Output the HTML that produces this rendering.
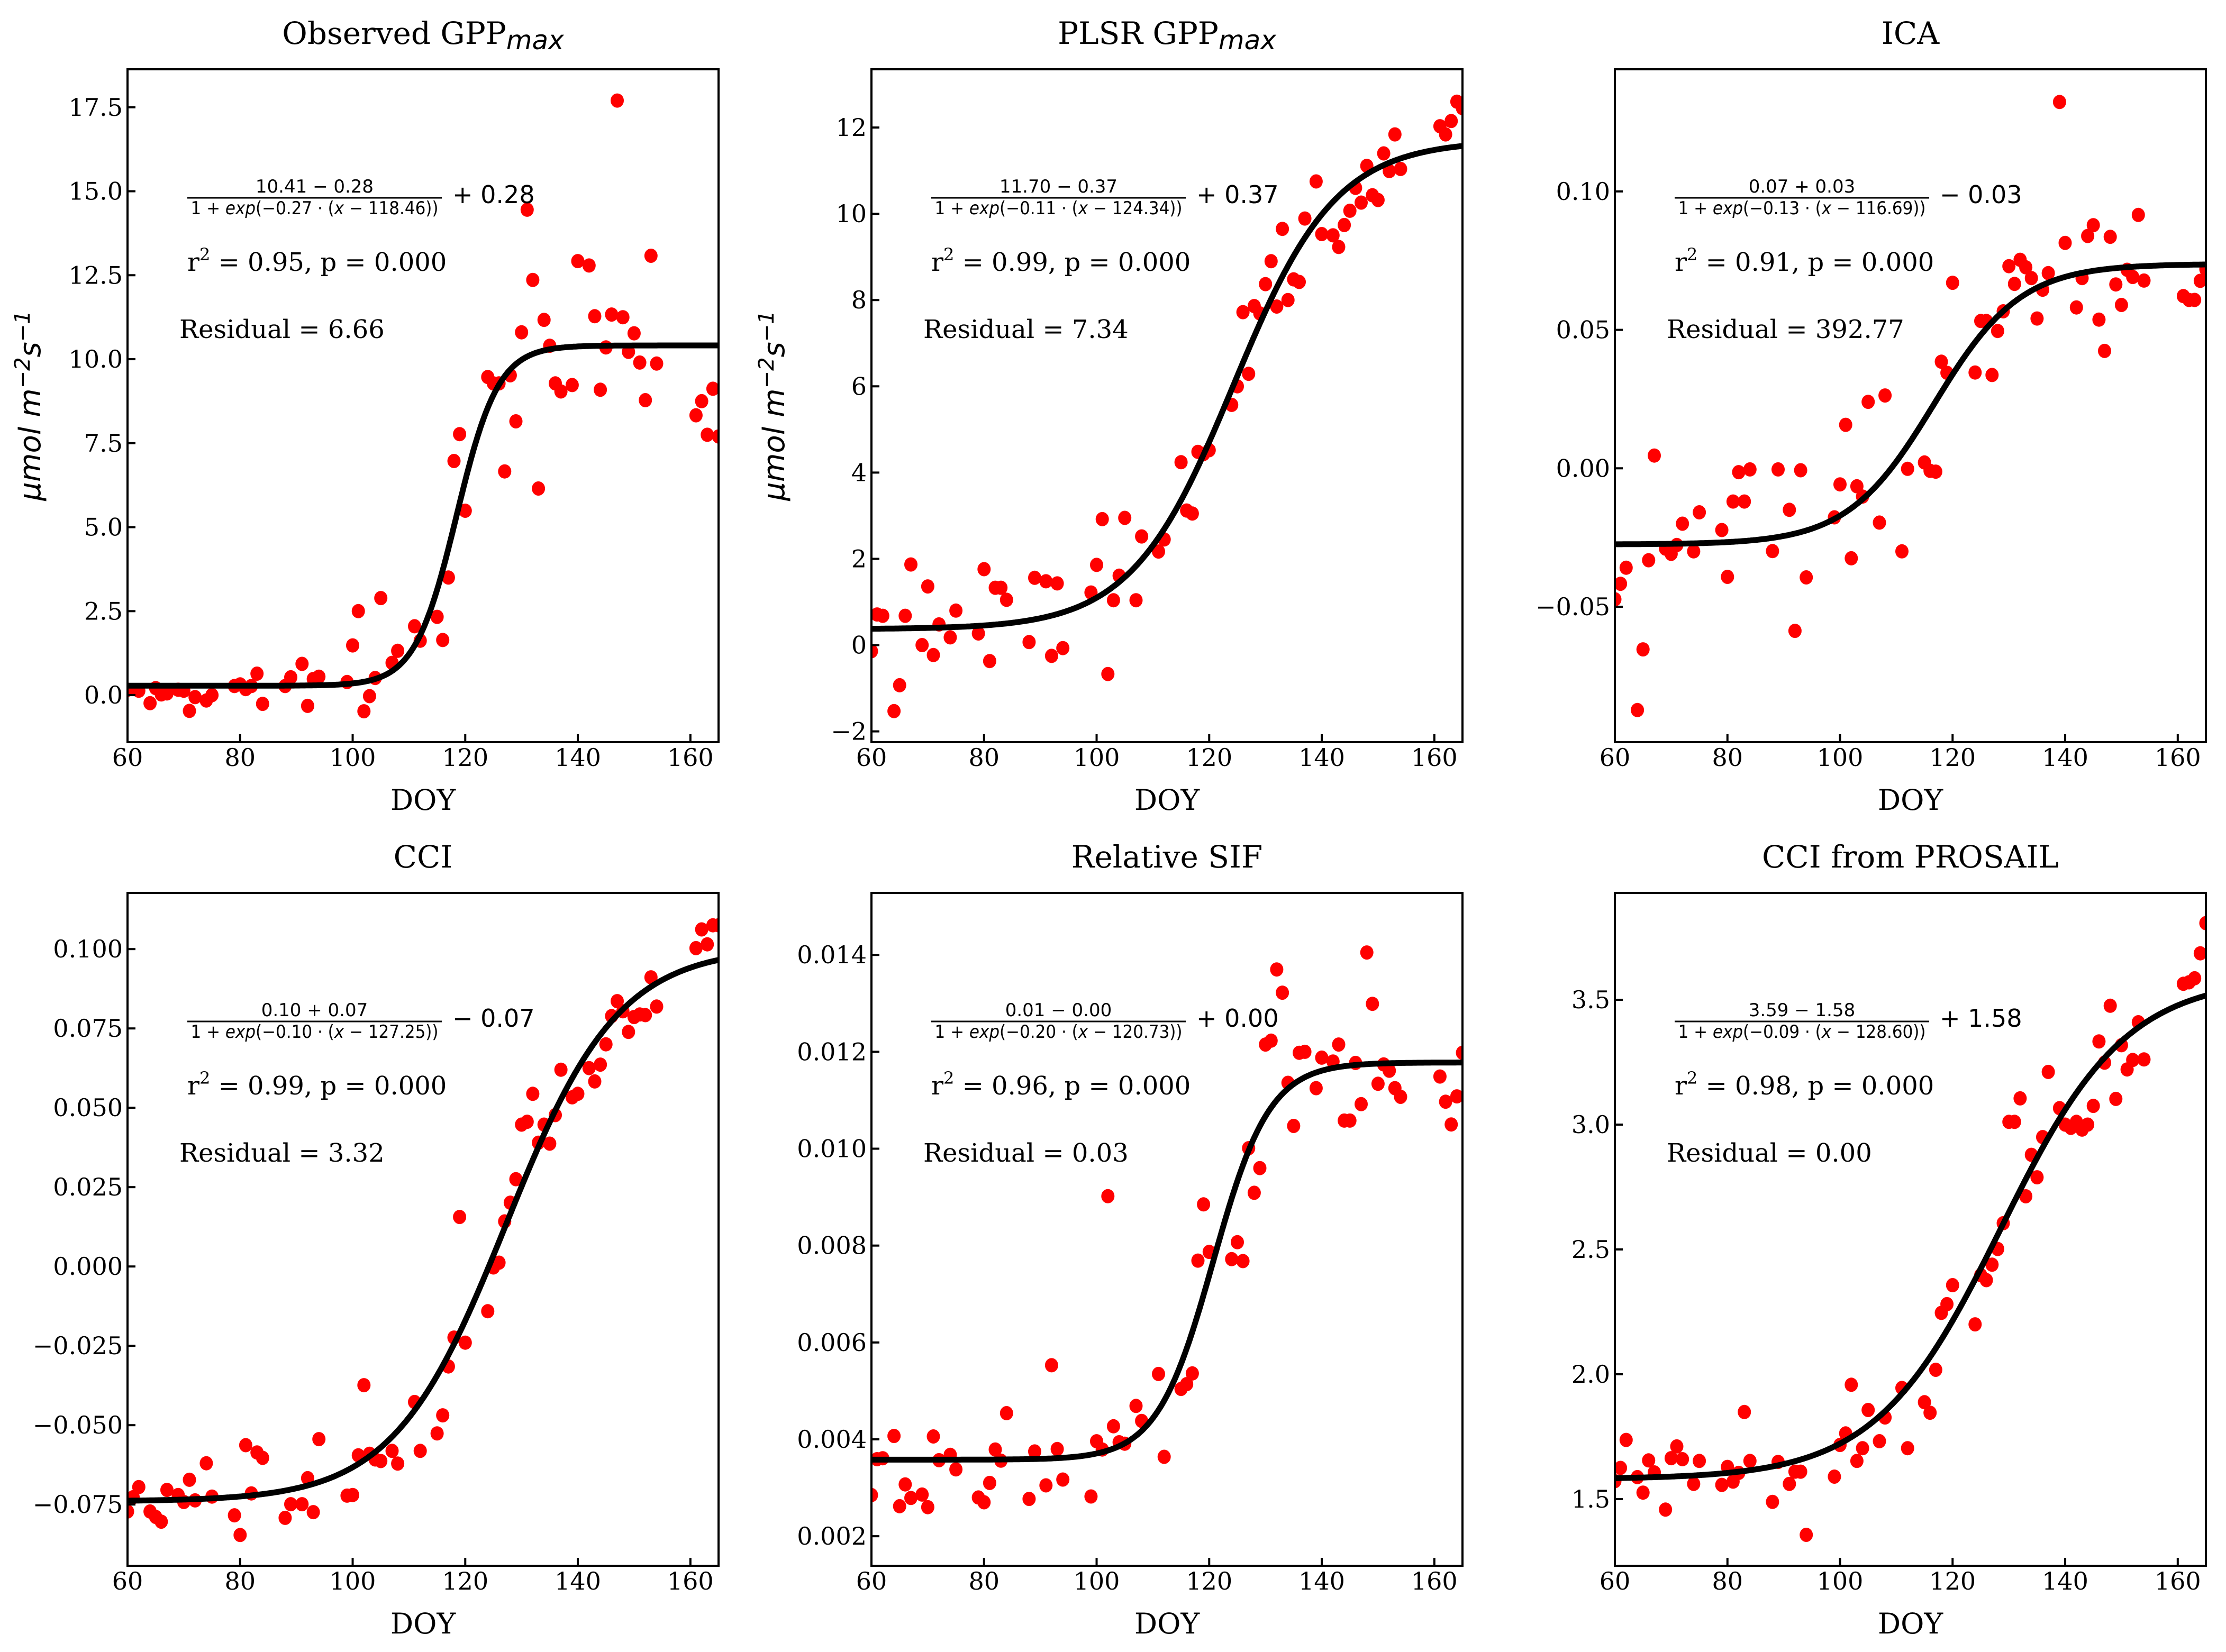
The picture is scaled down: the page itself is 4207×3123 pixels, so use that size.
<!DOCTYPE html>
<html><head><meta charset="utf-8">
<style>
html,body{margin:0;padding:0;background:#fff;}
svg{display:block;}
.serif{font-family:"DejaVu Serif","Liberation Serif",serif;}
.sans{font-family:"DejaVu Sans","Liberation Sans",sans-serif;}
</style></head>
<body>
<svg id="fig" width="4207" height="3123" viewBox="0 0 4207 3123" xmlns="http://www.w3.org/2000/svg"></svg>
<script>
// ---- Shared axis data ----
const xTicks = [60, 80, 100, 120, 140, 160];
const xLim = [60, 165];

// ---- Panel 1: Observed GPPmax ----
const doy1 = [60,62,64,65,66,67,69,70,71,72,74,75,79,80,81,82,83,84,88,89,91,92,93,94,99,100,101,102,103,104,105,107,108,111,112,115,116,117,118,119,120,124,125,126,127,128,129,130,131,132,133,134,135,136,137,139,140,142,143,144,145,146,147,148,149,150,151,152,153,154,161,162,163,164,165];
const val1 = [0.16,0.13,-0.24,0.21,0.02,0.05,0.16,0.13,-0.47,-0.06,-0.16,0.0,0.27,0.32,0.18,0.27,0.64,-0.26,0.27,0.53,0.93,-0.32,0.48,0.55,0.39,1.48,2.5,-0.48,-0.03,0.51,2.89,0.96,1.32,2.05,1.62,2.33,1.64,3.5,6.97,7.77,5.49,9.47,9.28,9.28,6.66,9.52,8.15,10.8,14.45,12.36,6.15,11.17,10.4,9.28,9.04,9.23,12.92,12.79,11.28,9.09,10.35,11.33,17.7,11.25,10.22,10.77,9.9,8.78,13.08,9.87,8.33,8.75,7.75,9.12,7.7];
const fit1 = [10.41, 0.28, 0.27, 118.46];
const yTicks1 = [0, 2.5, 5, 7.5, 10, 12.5, 15, 17.5];
const yLabels1 = ["0.0","2.5","5.0","7.5","10.0","12.5","15.0","17.5"];
const yLim1 = [-1.40, 18.63];

// ---- Panel 2: PLSR GPPmax ----
const doy2 = [60,61,62,64,65,66,67,69,70,71,72,74,75,79,80,81,82,83,84,88,89,91,92,93,94,99,100,101,102,103,104,105,107,108,111,112,115,116,117,118,119,120,124,125,126,127,128,129,130,131,132,133,134,135,136,137,139,140,142,143,144,145,146,147,148,149,150,151,152,153,154,161,162,163,164,165];
const val2 = [-0.14,0.71,0.68,-1.53,-0.93,0.68,1.87,0.0,1.36,-0.23,0.48,0.18,0.8,0.27,1.76,-0.37,1.33,1.33,1.05,0.07,1.56,1.48,-0.25,1.43,-0.07,1.22,1.86,2.92,-0.67,1.04,1.61,2.95,1.04,2.52,2.17,2.45,4.24,3.12,3.05,4.48,4.43,4.52,5.57,6.0,7.72,6.29,7.86,7.69,8.37,8.9,7.85,9.65,8.0,8.48,8.42,9.89,10.75,9.53,9.5,9.23,9.74,10.07,10.6,10.26,11.11,10.43,10.32,11.4,10.99,11.84,11.04,12.03,11.84,12.15,12.6,12.45];
const fit2 = [11.70, 0.37, 0.11, 124.34];
const yTicks2 = [-2, 0, 2, 4, 6, 8, 10, 12];
const yLabels2 = ["\u22122","0","2","4","6","8","10","12"];
const yLim2 = [-2.25, 13.35];

// ---- Panel 3: ICA ----
const doy3 = [60,61,62,64,65,66,67,69,70,71,72,74,75,79,80,81,82,83,84,88,89,91,92,93,94,99,100,101,102,103,104,105,107,108,111,112,115,116,117,118,119,120,124,125,126,127,128,129,130,131,132,133,134,135,136,137,139,140,142,143,144,145,146,147,148,149,150,151,152,153,154,161,162,163,164,165];
const val3 = [-0.0473,-0.0417,-0.0359,-0.0873,-0.0654,-0.0332,0.0046,-0.029,-0.0309,-0.0277,-0.02,-0.03,-0.0159,-0.0223,-0.0392,-0.012,-0.0014,-0.012,-0.0004,-0.0299,-0.0004,-0.015,-0.0587,-0.0007,-0.0394,-0.0177,-0.0058,0.0157,-0.0325,-0.0065,-0.0102,0.024,-0.0196,0.0263,-0.03,-0.0002,0.0021,-0.0009,-0.0012,0.0385,0.0345,0.067,0.0346,0.0532,0.0532,0.0337,0.0496,0.0567,0.073,0.0666,0.0753,0.0726,0.0687,0.0541,0.0645,0.0705,0.1323,0.0814,0.0581,0.0687,0.0839,0.0878,0.0537,0.0424,0.0836,0.0664,0.059,0.0717,0.0691,0.0915,0.0678,0.0622,0.0608,0.0608,0.0677,0.0719];
const fit3 = [0.0738, -0.0275, 0.13, 116.69];
const yTicks3 = [-0.05, 0, 0.05, 0.10];
const yLabels3 = ["\u22120.05","0.00","0.05","0.10"];
const yLim3 = [-0.0989, 0.1441];

// ---- Panel 4: CCI ----
const doy4 = [60,61,62,64,65,66,67,69,70,71,72,74,75,79,80,81,82,83,84,88,89,91,92,93,94,99,100,101,102,103,104,105,107,108,111,112,115,116,117,118,119,120,124,125,126,127,128,129,130,131,132,133,134,135,136,137,139,140,142,143,144,145,146,147,148,149,150,151,152,153,154,161,162,163,164,165];
const val4 = [-0.0772,-0.0727,-0.0695,-0.0772,-0.0789,-0.0804,-0.0704,-0.072,-0.0742,-0.0672,-0.0737,-0.062,-0.0725,-0.0784,-0.0846,-0.0563,-0.0715,-0.0586,-0.0603,-0.0792,-0.0749,-0.0749,-0.0667,-0.0774,-0.0544,-0.0722,-0.072,-0.0595,-0.0374,-0.059,-0.0608,-0.0613,-0.0581,-0.0621,-0.0427,-0.0581,-0.0526,-0.0469,-0.0315,-0.0224,0.0156,-0.024,-0.0141,-0.0003,0.0012,0.0142,0.0201,0.0275,0.0447,0.0456,0.0544,0.039,0.0447,0.0387,0.0477,0.062,0.0533,0.0544,0.0625,0.0583,0.0636,0.07,0.0789,0.0836,0.0804,0.0739,0.0786,0.0794,0.0792,0.0911,0.0819,0.1003,0.1062,0.1015,0.1075,0.1075];
const fit4 = [0.1005, -0.0740, 0.10, 127.25];
const yTicks4 = [-0.075, -0.05, -0.025, 0, 0.025, 0.05, 0.075, 0.1];
const yLabels4 = ["\u22120.075","\u22120.050","\u22120.025","0.000","0.025","0.050","0.075","0.100"];
const yLim4 = [-0.0943, 0.1177];

// ---- Panel 5: Relative SIF ----
const doy5 = [60,61,62,64,65,66,67,69,70,71,72,74,75,79,80,81,82,83,84,88,89,91,92,93,94,99,100,101,102,103,104,105,107,108,111,112,115,116,117,118,119,120,124,125,126,127,128,129,130,131,132,133,134,135,136,137,139,140,142,143,144,145,146,147,148,149,150,151,152,153,154,161,162,163,164,165];
const val5 = [0.00285,0.00359,0.00361,0.00407,0.00262,0.00307,0.00279,0.00286,0.0026,0.00406,0.00357,0.00368,0.00338,0.0028,0.0027,0.0031,0.00379,0.00356,0.00454,0.00277,0.00375,0.00305,0.00553,0.0038,0.00317,0.00282,0.00396,0.00379,0.00902,0.00427,0.00394,0.00391,0.00469,0.00438,0.00535,0.00364,0.00504,0.00514,0.00536,0.00769,0.00885,0.00787,0.00772,0.00807,0.00768,0.01001,0.00909,0.0096,0.01215,0.01223,0.0137,0.01322,0.01136,0.01047,0.01198,0.012,0.01125,0.01188,0.0118,0.01215,0.01058,0.01058,0.01177,0.01092,0.01405,0.01299,0.01134,0.01174,0.01161,0.01125,0.01107,0.01149,0.01097,0.0105,0.01108,0.01198];
const fit5 = [0.01178, 0.00358, 0.20, 120.73];
const yTicks5 = [0.002, 0.004, 0.006, 0.008, 0.010, 0.012, 0.014];
const yLabels5 = ["0.002","0.004","0.006","0.008","0.010","0.012","0.014"];
const yLim5 = [0.00139, 0.01528];

// ---- Panel 6: CCI from PROSAIL ----
const doy6 = [60,61,62,64,65,66,67,69,70,71,72,74,75,79,80,81,82,83,84,88,89,91,92,93,94,99,100,101,102,103,104,105,107,108,111,112,115,116,117,118,119,120,124,125,126,127,128,129,130,131,132,133,134,135,136,137,139,140,141,142,143,144,145,146,147,148,149,150,151,152,153,154,161,162,163,164,165];
const val6 = [1.572,1.625,1.737,1.588,1.526,1.655,1.607,1.458,1.664,1.711,1.66,1.561,1.653,1.557,1.629,1.57,1.605,1.849,1.653,1.489,1.649,1.561,1.61,1.61,1.357,1.59,1.717,1.763,1.958,1.653,1.704,1.857,1.732,1.827,1.945,1.704,1.888,1.846,2.018,2.246,2.281,2.357,2.2,2.397,2.377,2.439,2.502,2.605,3.011,3.011,3.105,2.713,2.879,2.789,2.95,3.211,3.066,3.0,2.987,3.011,2.98,3.0,3.075,3.333,3.248,3.476,3.103,3.318,3.221,3.259,3.41,3.261,3.564,3.57,3.586,3.686,3.807];
const fit6 = [3.59, 1.58, 0.09, 128.60];
const yTicks6 = [1.5, 2.0, 2.5, 3.0, 3.5];
const yLabels6 = ["1.5","2.0","2.5","3.0","3.5"];
const yLim6 = [1.233, 3.928];

const NS = "http://www.w3.org/2000/svg";
const fig = document.getElementById('fig');
function mk(tag, parent, attrs) {
  const e = document.createElementNS(NS, tag);
  for (const k in attrs) e.setAttribute(k, attrs[k]);
  parent.appendChild(e);
  return e;
}
function tsp(parent, txt, attrs) {
  const t = mk('tspan', parent, attrs || {});
  t.textContent = txt;
  return t;
}

const AW = 1117, AH = 1272;
const panels = [
  {L:241, T:131, doy:doy1, val:val1, fit:fit1, yt:yTicks1, yl:yLabels1, lim:yLim1, title:["Observed GPP","max"], key:"observed-gpp",
   num:"10.41 \u2212 0.28", k:"0.27", x0:"118.46", off:"+ 0.28", r2:"0.95", res:"6.66", ylab:true},
  {L:1647, T:131, doy:doy2, val:val2, fit:fit2, yt:yTicks2, yl:yLabels2, lim:yLim2, title:["PLSR GPP","max"], key:"plsr-gpp",
   num:"11.70 \u2212 0.37", k:"0.11", x0:"124.34", off:"+ 0.37", r2:"0.99", res:"7.34", ylab:true},
  {L:3052, T:131, doy:doy3, val:val3, fit:fit3, yt:yTicks3, yl:yLabels3, lim:yLim3, title:["ICA"], key:"ica",
   num:"0.07 + 0.03", k:"0.13", x0:"116.69", off:"\u2212 0.03", r2:"0.91", res:"392.77"},
  {L:241, T:1688, doy:doy4, val:val4, fit:fit4, yt:yTicks4, yl:yLabels4, lim:yLim4, title:["CCI"], key:"cci",
   num:"0.10 + 0.07", k:"0.10", x0:"127.25", off:"\u2212 0.07", r2:"0.99", res:"3.32"},
  {L:1647, T:1688, doy:doy5, val:val5, fit:fit5, yt:yTicks5, yl:yLabels5, lim:yLim5, title:["Relative SIF"], key:"relative-sif",
   num:"0.01 \u2212 0.00", k:"0.20", x0:"120.73", off:"+ 0.00", r2:"0.96", res:"0.03"},
  {L:3052, T:1688, doy:doy6, val:val6, fit:fit6, yt:yTicks6, yl:yLabels6, lim:yLim6, title:["CCI from PROSAIL"], key:"cci-prosail",
   num:"3.59 \u2212 1.58", k:"0.09", x0:"128.60", off:"+ 1.58", r2:"0.98", res:"0.00"}
];

panels.forEach(p => {
  const g = mk('g', fig, {});
  
  
  const L = p.L, T = p.T, R = L + AW, B = T + AH;
  const xs = v => L + (v - xLim[0]) / (xLim[1] - xLim[0]) * AW;
  const ys = v => B - (v - p.lim[0]) / (p.lim[1] - p.lim[0]) * AH;

  const clipId = 'clip-' + p.key;
  const cp = mk('clipPath', g, {id: clipId});
  mk('rect', cp, {x:L, y:T, width:AW, height:AH});

  const pts = mk('g', g, {'clip-path':'url(#' + clipId + ')'});
  
  
  p.doy.forEach((d, i) => {
    const c = mk('ellipse', pts, {cx: xs(d).toFixed(1), cy: ys(p.val[i]).toFixed(1), rx: 12.5, ry: 13.5, fill: '#ff0000'});
    
    
  });

  const [hi, lo, kk, x0] = p.fit;
  let dstr = '';
  for (let x = xLim[0]; x <= xLim[1] + 1e-9; x += 0.25) {
    const y = lo + (hi - lo) / (1 + Math.exp(-kk * (x - x0)));
    dstr += (dstr ? 'L' : 'M') + xs(x).toFixed(1) + ',' + ys(y).toFixed(1);
  }
  const cur = mk('path', g, {d: dstr, fill: 'none', stroke: '#000', 'stroke-width': 11, 'clip-path':'url(#' + clipId + ')'});
  
  

  const fr = mk('rect', g, {x:L, y:T, width:AW, height:AH, fill:'none', stroke:'#000', 'stroke-width':4});
  
  

  xTicks.forEach(v => {
    const x = xs(v);
    mk('line', g, {x1:x, y1:B, x2:x, y2:B - 15, stroke:'#000', 'stroke-width':4});
    const t = mk('text', g, {x:x, y:B + 45, 'text-anchor':'middle', 'font-size':46, class:'serif'});
    t.textContent = String(v);
    
    
  });
  p.yt.forEach((v, i) => {
    const y = ys(v);
    mk('line', g, {x1:L, y1:y, x2:L + 15, y2:y, stroke:'#000', 'stroke-width':4});
    const t = mk('text', g, {x:L - 9, y:y + 16, 'text-anchor':'end', 'font-size':46, class:'serif'});
    t.textContent = p.yl[i];
    
    
  });

  const tt = mk('text', g, {x:L + AW / 2, y:T - 48, 'text-anchor':'middle', 'font-size':58, class:'serif'});
  tsp(tt, p.title[0]);
  if (p.title[1]) tsp(tt, p.title[1], {class:'sans', 'font-style':'italic', 'font-size':50, dy:10});
  
  

  const xl = mk('text', g, {x:L + AW / 2, y:B + 128, 'text-anchor':'middle', 'font-size':54, class:'serif'});
  xl.textContent = 'DOY';
  
  

  if (p.ylab) {
    const cx = L - 165, cy = T + AH / 2;
    const yl = mk('text', g, {x:cx, y:cy, 'text-anchor':'middle', 'font-size':56, class:'sans', 'font-style':'italic', transform:'rotate(-90 ' + cx + ' ' + cy + ')'});
    tsp(yl, 'μmol m');
    tsp(yl, '\u22122', {'font-size':40, dy:-20});
    tsp(yl, 's', {dy:20});
    tsp(yl, '\u22121', {'font-size':40, dy:-20});
    
    
  }

  const fg = mk('g', g, {});
  
  
  const fl = L + 113, fw = 481;
  mk('line', fg, {x1:fl, y1:T + 243, x2:fl + fw, y2:T + 243, stroke:'#000', 'stroke-width':3});
  const nt = mk('text', fg, {x:fl + fw / 2, y:T + 233, 'text-anchor':'middle', 'font-size':34, class:'sans'});
  nt.textContent = p.num;
  const dt = mk('text', fg, {x:fl + fw / 2, y:T + 274, 'text-anchor':'middle', 'font-size':34, class:'sans', textLength:468, lengthAdjust:'spacingAndGlyphs'});
  tsp(dt, '1 + ');
  tsp(dt, 'exp', {'font-style':'italic'});
  tsp(dt, '(\u2212' + p.k + ' \u00b7 (');
  tsp(dt, 'x', {'font-style':'italic'});
  tsp(dt, ' \u2212 ' + p.x0 + '))');
  const ot = mk('text', fg, {x:L + 614, y:T + 253, 'font-size':46, class:'sans'});
  ot.textContent = p.off;

  const rt = mk('text', g, {x:L + 113, y:T + 381, 'font-size':48, class:'serif'});
  tsp(rt, 'r');
  tsp(rt, '2', {'font-size':32, dy:-20});
  tsp(rt, ' = ' + p.r2 + ', p = 0.000', {dy:20});
  
  

  const rs = mk('text', g, {x:L + 98, y:T + 508, 'font-size':48, class:'serif'});
  rs.textContent = 'Residual = ' + p.res;
  
  
});
</script>
</body></html>
